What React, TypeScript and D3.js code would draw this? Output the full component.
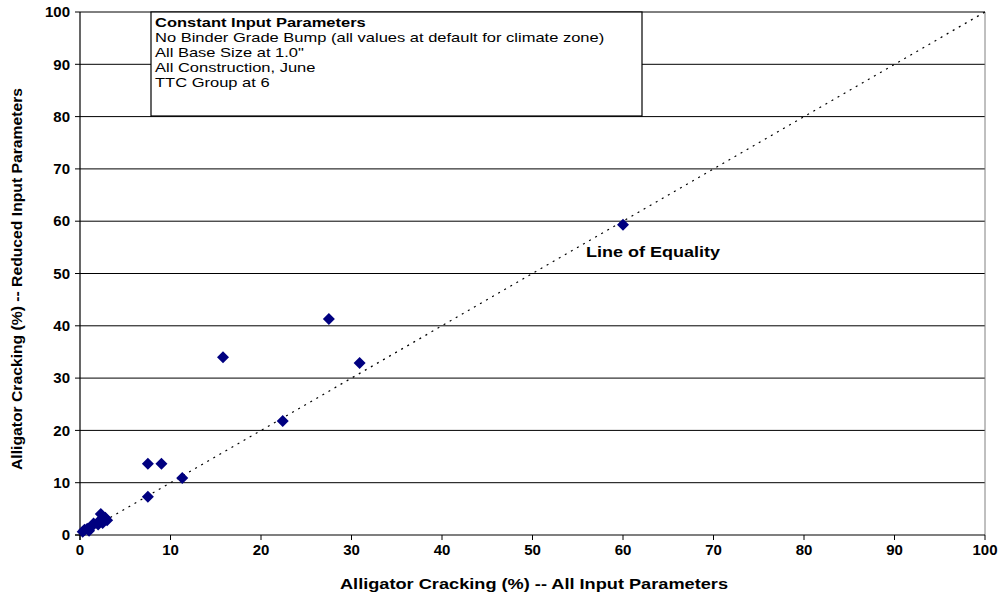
import React from "react";
import * as d3 from "d3";

const xValues = [60.0, 27.5, 15.8, 30.9, 22.4, 11.3, 7.5, 9.0, 7.5, 2.3, 2.8, 3.0, 2.5, 2.0, 1.5, 1.2, 0.8, 0.5, 0.3, 1.0, 2.2];
const yValues = [59.3, 41.3, 34.0, 32.9, 21.8, 10.9, 13.6, 13.6, 7.3, 4.0, 3.3, 2.8, 2.3, 2.0, 2.2, 1.5, 1.2, 1.0, 0.6, 0.8, 2.8];
const tickValues = [0, 10, 20, 30, 40, 50, 60, 70, 80, 90, 100];
const boxLines = [
  "Constant Input Parameters",
  "No Binder Grade Bump (all values at default for climate zone)",
  "All Base Size at 1.0\"",
  "All Construction, June",
  "TTC Group at 6",
];
const boxLineY = [27.5, 42.5, 57.5, 72.5, 87.5];

export default function App() {
  const W = 1005, H = 601;
  const left = 80, right = 985, top = 12, bottom = 535;
  const x = d3.scaleLinear().domain([0, 100]).range([left, right]);
  const y = d3.scaleLinear().domain([0, 100]).range([bottom, top]);
  const font = "Arial, 'Liberation Sans', sans-serif";
  const d = 6;
  return (
    <svg width={W} height={H} style={{ position: "absolute", left: 0, top: 0 }} fontFamily={font}>
      <rect x={0} y={0} width={W} height={H} fill="#fff" />
      {tickValues.slice(1).map((t) => (
        <line key={"g" + t} x1={left} x2={right} y1={y(t)} y2={y(t)} stroke="#000" strokeWidth={1} />
      ))}
      <line x1={right} x2={right} y1={top} y2={bottom} stroke="#808080" strokeWidth={1} />
      <line x1={left} x2={left} y1={top} y2={bottom + 5} stroke="#000" strokeWidth={1.2} />
      <line x1={left - 5} x2={right} y1={bottom} y2={bottom} stroke="#000" strokeWidth={1.2} />
      {tickValues.map((t) => (
        <g key={"t" + t}>
          <line x1={left - 5} x2={left} y1={y(t)} y2={y(t)} stroke="#000" />
          <line x1={x(t)} x2={x(t)} y1={bottom} y2={bottom + 5} stroke="#000" />
          <text x={left - 10} y={y(t)} dy="0.35em" textAnchor="end" fontSize={15} fontWeight="bold">{t}</text>
          <text x={x(t)} y={bottom + 20} textAnchor="middle" fontSize={15} fontWeight="bold">{t}</text>
        </g>
      ))}
      <line x1={x(0)} y1={y(0)} x2={x(100)} y2={y(100)} stroke="#000" strokeWidth={1.2} strokeDasharray="2,5" />
      {xValues.map((xv, i) => {
        const cx = x(xv), cy = y(yValues[i]);
        return (
          <path key={"p" + i} d={`M${cx},${cy - d}L${cx + d},${cy}L${cx},${cy + d}L${cx - d},${cy}Z`} fill="#000080" />
        );
      })}
      <text x={586} y={257} fontSize={15} fontWeight="bold" textLength={134} lengthAdjust="spacingAndGlyphs">Line of Equality</text>
      <rect x={151} y={12} width={491} height={104} fill="#fff" stroke="#000" strokeWidth={1.2} />
      <g transform="translate(155,0) scale(1.27,1)">
        {boxLines.map((l, i) => (
          <text key={"b" + i} x={0} y={boxLineY[i]} fontSize={13} fontWeight={i === 0 ? "bold" : "normal"}>{l}</text>
        ))}
      </g>
      <text x={534} y={589} textAnchor="middle" fontSize={15} fontWeight="bold" textLength={388} lengthAdjust="spacingAndGlyphs">Alligator Cracking (%) -- All Input Parameters</text>
      <text transform={`translate(22,279) rotate(-90)`} textAnchor="middle" fontSize={15} fontWeight="bold" textLength={382} lengthAdjust="spacingAndGlyphs">Alligator Cracking (%) -- Reduced Input Parameters</text>
    </svg>
  );
}
